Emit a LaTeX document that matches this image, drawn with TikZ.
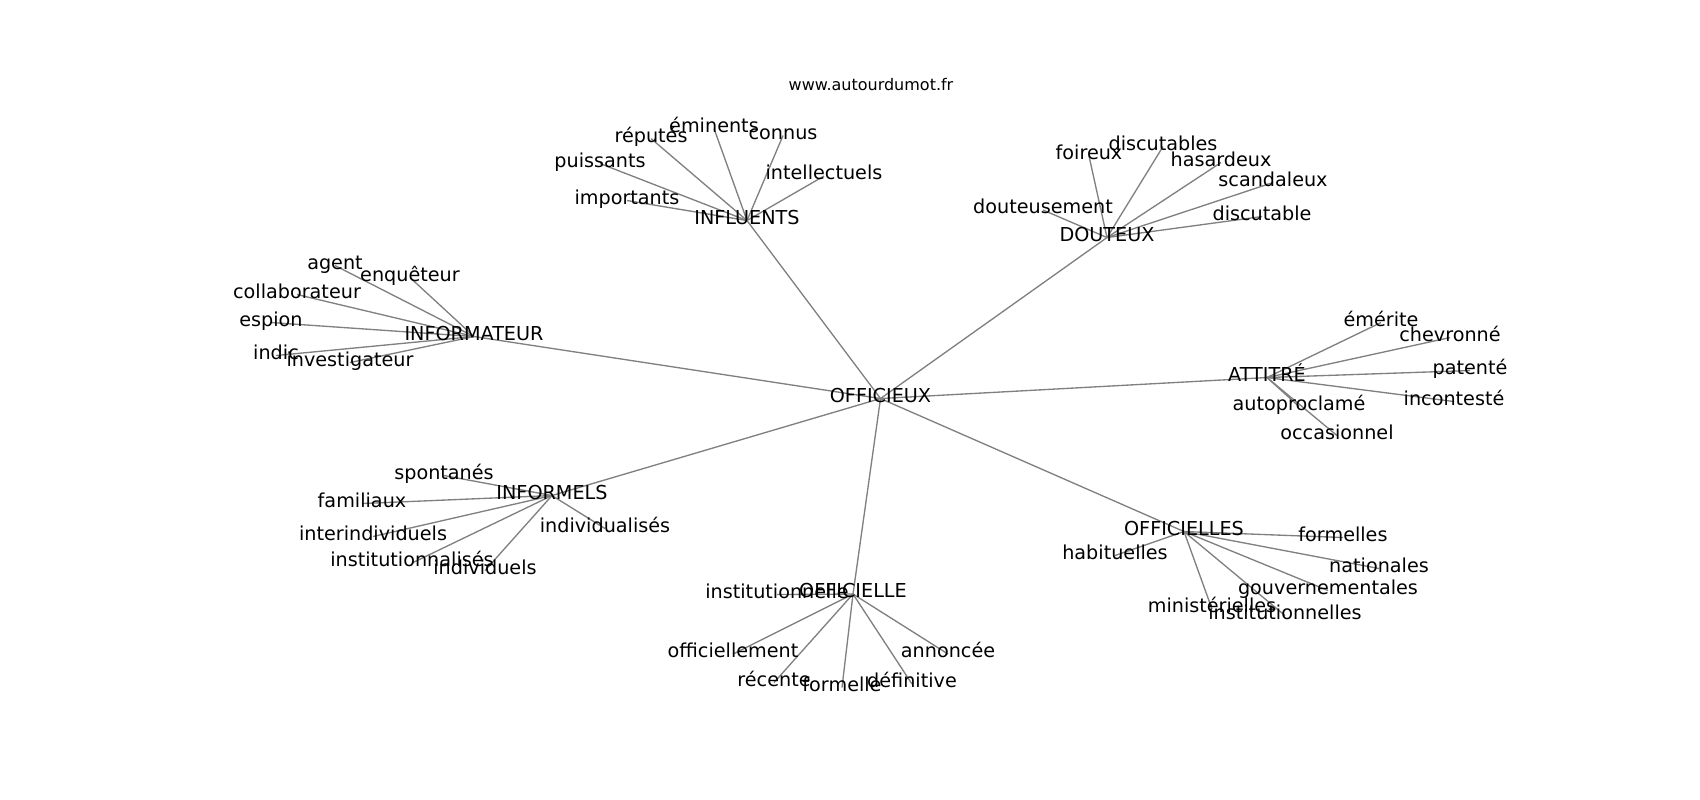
\documentclass[tikz,border=0pt]{standalone}
\usepackage{fontspec}
\setmainfont{DejaVu Sans}
\usetikzlibrary{backgrounds}

\tikzset{
  word/.style={inner sep=0pt, text height=0.76em, text depth=0.24em, yshift=-1.9pt, font=\fontsize{14.4}{16}\selectfont},
  link/.style={draw={rgb,255:red,128;green,128;blue,128}, line width=1pt}
}

\begin{document}
\begin{tikzpicture}[x=0.75pt,y=0.75pt,yscale=-1,xscale=1]
\useasboundingbox (0,0) rectangle (1700,800);

% Text Node
\node [word, font=\fontsize{12}{14}\selectfont] (site) at (871,84.5) {www.autourdumot.fr};

% centre
\node [word] (officieux) at (880.5,396) {OFFICIEUX};

% INFLUENTS
\node [word] (influents) at (747,218) {INFLUENTS};
\node [word] (eminents) at (714,126) {éminents};
\node [word] (reputes) at (651,136) {réputés};
\node [word] (connus) at (783,133) {connus};
\node [word] (puissants) at (600,161) {puissants};
\node [word] (intellectuels) at (824,173.5) {intellectuels};
\node [word] (importants) at (627,198) {importants};

% DOUTEUX
\node [word] (douteux) at (1107,235) {DOUTEUX};
\node [word] (foireux) at (1089,153.5) {foireux};
\node [word] (discutables) at (1163,144) {discutables};
\node [word] (hasardeux) at (1221,160) {hasardeux};
\node [word] (scandaleux) at (1273,180) {scandaleux};
\node [word] (douteusement) at (1043,207.5) {douteusement};
\node [word] (discutable) at (1262,214) {discutable};

% INFORMATEUR
\node [word] (informateur) at (474,334) {INFORMATEUR};
\node [word] (agent) at (335,263) {agent};
\node [word] (enqueteur) at (410,275) {enquêteur};
\node [word] (collaborateur) at (297,292) {collaborateur};
\node [word] (espion) at (271,320) {espion};
\node [word] (indic) at (276,353) {indic};
\node [word] (investigateur) at (350,360) {investigateur};

% ATTITRE
\node [word] (attitre) at (1267,375) {ATTITRÉ};
\node [word] (emerite) at (1381,320) {émérite};
\node [word] (chevronne) at (1450,335) {chevronné};
\node [word] (patente) at (1470,368) {patenté};
\node [word] (inconteste) at (1454,399) {incontesté};
\node [word] (autoproclame) at (1299,404) {autoproclamé};
\node [word] (occasionnel) at (1337,433) {occasionnel};

% INFORMELS
\node [word] (informels) at (552,493) {INFORMELS};
\node [word] (spontanes) at (444,473) {spontanés};
\node [word] (familiaux) at (362,501) {familiaux};
\node [word] (individualises) at (605,526) {individualisés};
\node [word] (interindividuels) at (373,534) {interindividuels};
\node [word] (institutionnalises) at (412,560.5) {institutionnalisés};
\node [word] (individuels) at (485,568) {individuels};

% OFFICIELLE
\node [word] (officielle) at (853,591.5) {OFFICIELLE};
\node [word] (institutionnelle) at (777,592) {institutionnelle};
\node [word] (officiellement) at (733,651.5) {officiellement};
\node [word] (annoncee) at (948,651.5) {annoncée};
\node [word] (recente) at (774,680) {récente};
\node [word] (formelle) at (842,685) {formelle};
\node [word] (definitive) at (912,681.5) {définitive};

% OFFICIELLES
\node [word] (officielles) at (1184,529) {OFFICIELLES};
\node [word] (formelles) at (1343,535) {formelles};
\node [word] (habituelles) at (1115,553) {habituelles};
\node [word] (nationales) at (1379,566) {nationales};
\node [word] (gouvernementales) at (1328,588) {gouvernementales};
\node [word] (ministerielles) at (1212,606.5) {ministérielles};
\node [word] (institutionnelles) at (1285,613) {institutionnelles};

% Straight Lines
\begin{scope}[on background layer]
\foreach \hub in {influents,douteux,informateur,attitre,informels,officielle,officielles}
  \draw [link] (officieux.center) -- (\hub.center);
\foreach \leaf in {eminents,reputes,connus,puissants,intellectuels,importants}
  \draw [link] (influents.center) -- (\leaf.center);
\foreach \leaf in {foireux,discutables,hasardeux,scandaleux,douteusement,discutable}
  \draw [link] (douteux.center) -- (\leaf.center);
\foreach \leaf in {agent,enqueteur,collaborateur,espion,indic,investigateur}
  \draw [link] (informateur.center) -- (\leaf.center);
\foreach \leaf in {emerite,chevronne,patente,inconteste,autoproclame,occasionnel}
  \draw [link] (attitre.center) -- (\leaf.center);
\foreach \leaf in {spontanes,familiaux,individualises,interindividuels,institutionnalises,individuels}
  \draw [link] (informels.center) -- (\leaf.center);
\foreach \leaf in {institutionnelle,officiellement,annoncee,recente,formelle,definitive}
  \draw [link] (officielle.center) -- (\leaf.center);
\foreach \leaf in {formelles,habituelles,nationales,gouvernementales,ministerielles,institutionnelles}
  \draw [link] (officielles.center) -- (\leaf.center);
\end{scope}

\end{tikzpicture}
\end{document}
